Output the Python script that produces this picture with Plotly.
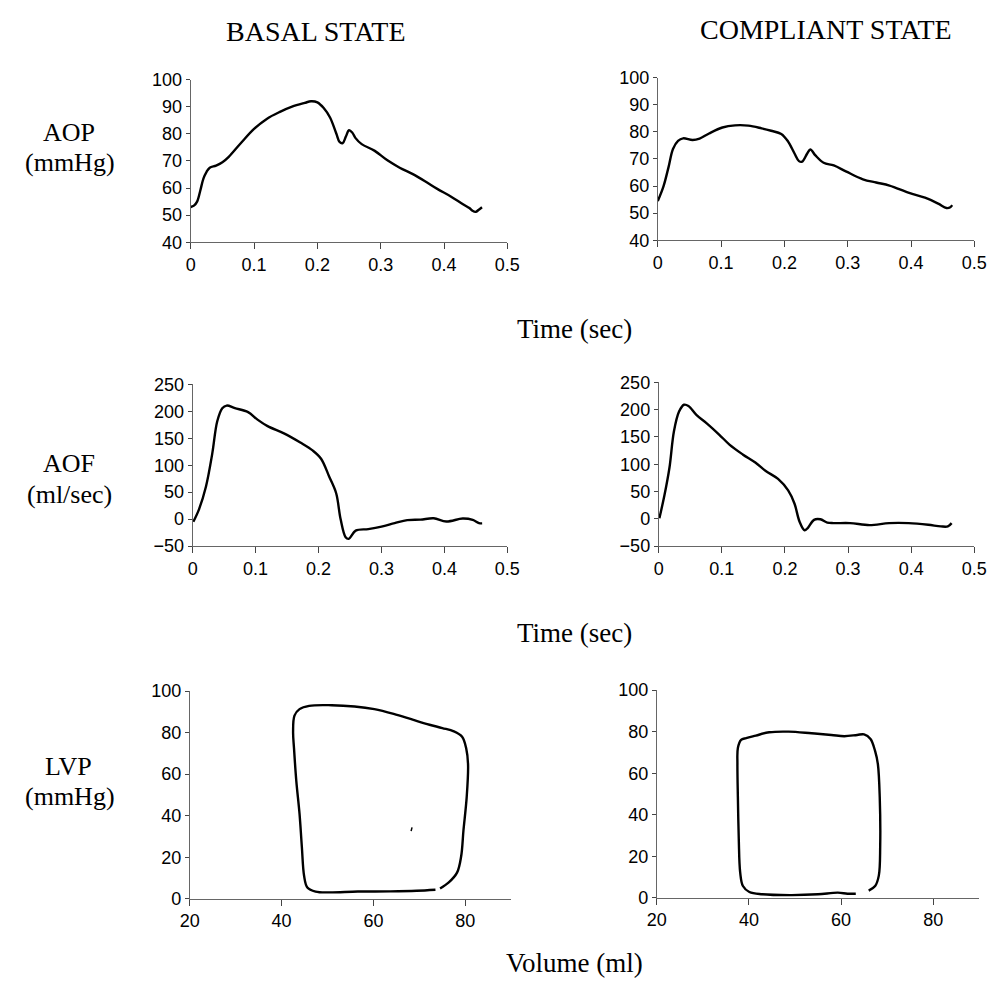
import plotly.graph_objects as go
from plotly.subplots import make_subplots

W, H = 1002, 998

# ---- Data ----
aop_basal_t = [0, 0.005, 0.01, 0.015, 0.02, 0.025, 0.03, 0.04, 0.05, 0.06, 0.08, 0.1, 0.12, 0.14, 0.16,
               0.18, 0.19, 0.2, 0.21, 0.22, 0.23, 0.235, 0.24, 0.245, 0.25, 0.255, 0.26, 0.27, 0.29, 0.31,
               0.33, 0.35, 0.37, 0.39, 0.41, 0.43, 0.44, 0.445, 0.45, 0.455, 0.46]
aop_basal_p = [53, 53.5, 55, 59, 63.5, 66, 67.5, 68.3, 69.5, 71.5, 76.8, 81.8, 85.5, 88, 90,
               91.4, 92, 91.6, 89.5, 86, 80, 77, 76.6, 79, 81.3, 80.5, 78.5, 76.2, 73.8, 70.3,
               67.5, 65.2, 62.5, 59.6, 57, 54, 52.6, 51.6, 51.2, 52, 52.9]

aop_comp_t = [0, 0.009, 0.017, 0.024, 0.032, 0.04, 0.055, 0.066, 0.081, 0.102, 0.122, 0.143, 0.164,
              0.179, 0.195, 0.205, 0.216, 0.223, 0.228, 0.236, 0.241, 0.249, 0.262, 0.278, 0.298,
              0.324, 0.345, 0.366, 0.397, 0.422, 0.443, 0.456, 0.462, 0.465]
aop_comp_p = [54.5, 59.9, 67, 73.7, 76.7, 77.6, 77, 77.5, 79.4, 81.6, 82.4, 82.3, 81.3,
              80.4, 79.2, 76.7, 72, 69.2, 69, 72, 73.5, 71.3, 68.6, 67.6, 65.3,
              62.5, 61.3, 60.2, 57.5, 55.7, 53.5, 51.9, 52.2, 53]

aof_basal_t = [0.001, 0.01, 0.021, 0.031, 0.039, 0.047, 0.054, 0.067, 0.088, 0.103, 0.119, 0.145,
               0.171, 0.191, 0.204, 0.217, 0.228, 0.235, 0.243, 0.248, 0.259, 0.279, 0.3, 0.321,
               0.341, 0.362, 0.383, 0.403, 0.429, 0.445, 0.455, 0.46]
aof_basal_f = [-5, 18, 60, 121, 181.5, 205.8, 210.6, 205.8, 198.5, 184.5, 172.4, 159,
               142, 127, 112, 78.5, 48, 0, -33.6, -36.6, -21.5, -18.5, -14, -7.5,
               -2, -1, 1.5, -4.5, 1, -1.5, -7.5, -8]

aof_comp_t = [0.001, 0.009, 0.017, 0.024, 0.032, 0.04, 0.047, 0.06, 0.076, 0.096, 0.112, 0.133,
              0.153, 0.169, 0.189, 0.205, 0.215, 0.223, 0.231, 0.236, 0.246, 0.256, 0.267, 0.277,
              0.303, 0.334, 0.365, 0.396, 0.427, 0.447, 0.458, 0.464]
aof_comp_f = [1, 43, 94, 160, 196, 209, 206.8, 190, 175, 154, 136, 118,
              103, 88, 73, 52, 28, -5, -21, -17, -2, -1, -7, -8,
              -8, -11.6, -8, -8, -11, -14, -14, -8]

lvp_basal_v = [74.5, 76.4, 78.2, 79.1, 79.6, 80.3, 80.6, 80.2, 79.3, 77.5, 75, 72.2, 68.7, 64.4, 60.2,
               55.9, 50.9, 46, 43.9, 42.8, 42.5, 42.7, 43.2, 43.9, 44.4, 44.9, 45.6, 47.4, 50.2,
               56.6, 63.7, 69.4, 73.5]
lvp_basal_p = [5, 7.9, 12.6, 20.5, 33, 48.8, 64.6, 72.4, 78, 80.6, 82.2, 83.8, 86.1, 89, 91.3,
               92.6, 93.2, 92.9, 91.3, 88.2, 80.3, 72.4, 56.7, 41, 25.2, 11, 5.5, 3.5, 3.1,
               3.5, 3.6, 3.9, 4.4]
stray_v = [68.2, 68.4]
stray_p = [32.6, 34.4]

lvp_comp_v = [66, 67.4, 68.2, 68.5, 68.4, 68, 67.4, 66.4, 65, 63.5, 60.7, 57.9, 53.6, 48.6, 44.4,
              41.5, 39.4, 38.3, 37.6, 37.5, 37.6, 37.8, 38.1, 38.7, 40.1, 42.9, 49.3, 55, 59.3,
              61.4, 63.2]
lvp_comp_p = [3.5, 5.7, 10.7, 24.9, 48.5, 64.3, 70.6, 76.5, 78.7, 78.4, 77.8, 78.4, 79.2, 80, 79.7,
              78.1, 76.9, 76, 72.1, 64.3, 48.5, 28, 12.3, 5.7, 2.8, 1.7, 1.3, 1.7, 2.5,
              2, 2]

time_ticks = [0, 0.1, 0.2, 0.3, 0.4, 0.5]
aop_ticks = [40, 50, 60, 70, 80, 90, 100]
aof_ticks = [-50, 0, 50, 100, 150, 200, 250]
vol_ticks = [20, 40, 60, 80]
lvp_ticks = [0, 20, 40, 60, 80, 100]

col_titles = ["BASAL STATE", "COMPLIANT STATE"]
row_labels = [["AOP", "(mmHg)"], ["AOF", "(ml/sec)"], ["LVP", "(mmHg)"]]
x_titles = ["Time (sec)", "Time (sec)", "Volume (ml)"]

# ---- Figure ----
fig = make_subplots(rows=3, cols=2)

line = dict(color="black", width=2.4, shape="spline")
fig.add_trace(go.Scatter(x=aop_basal_t, y=aop_basal_p, mode="lines", line=line, showlegend=False), 1, 1)
fig.add_trace(go.Scatter(x=aop_comp_t, y=aop_comp_p, mode="lines", line=line, showlegend=False), 1, 2)
fig.add_trace(go.Scatter(x=aof_basal_t, y=aof_basal_f, mode="lines", line=line, showlegend=False), 2, 1)
fig.add_trace(go.Scatter(x=aof_comp_t, y=aof_comp_f, mode="lines", line=line, showlegend=False), 2, 2)
fig.add_trace(go.Scatter(x=lvp_basal_v, y=lvp_basal_p, mode="lines", line=line, showlegend=False), 3, 1)
fig.add_trace(go.Scatter(x=stray_v, y=stray_p, mode="lines", line=dict(color="black", width=1.5), showlegend=False), 3, 1)
fig.add_trace(go.Scatter(x=lvp_comp_v, y=lvp_comp_p, mode="lines", line=line, showlegend=False), 3, 2)

def px_x(a, b):
    return [a / W, b / W]

def px_y(top, bottom):
    return [1 - bottom / H, 1 - top / H]

# pixel boxes (left, right, top, bottom)
boxes = {
    (1, 1): (185, 509, 71, 237),
    (1, 2): (663, 987, 69, 235),
    (2, 1): (187, 509, 382, 547),
    (2, 2): (664, 987, 380, 547),
    (3, 1): (184, 513, 695, 907),
    (3, 2): (662, 992, 694, 906),
}
tickfont = dict(family="Arial, Liberation Sans, sans-serif", size=18, color="black")
axis_common = dict(showgrid=False, zeroline=False, showline=True, linecolor="#666", linewidth=1,
                   ticks="outside", tickcolor="#444", tickwidth=1, tickfont=tickfont)

for (r, c), (l, rr, t, b) in boxes.items():
    fig.update_xaxes(domain=px_x(l, rr), row=r, col=c, **axis_common, ticklen=6)
    fig.update_yaxes(domain=px_y(t, b), row=r, col=c, **axis_common, ticklen=4)
    if r < 3:
        fig.update_xaxes(range=[0, 0.5], tickvals=time_ticks, ticktext=[f"{v:g}" for v in time_ticks], row=r, col=c)
    else:
        fig.update_xaxes(range=[20, 90], tickvals=vol_ticks, row=r, col=c)
    if r == 1:
        fig.update_yaxes(range=[40, 100], tickvals=aop_ticks, row=r, col=c)
    elif r == 2:
        fig.update_yaxes(range=[-50, 250], tickvals=aof_ticks, row=r, col=c)
    else:
        fig.update_yaxes(range=[0, 100], tickvals=lvp_ticks, row=r, col=c)

ann = []
def add_text(txt, x, y, size=27):
    ann.append(dict(text=txt, x=x / W, y=1 - y / H, xref="paper", yref="paper",
                    showarrow=False,
                    font=dict(family="Times New Roman, Liberation Serif, serif", size=size, color="black"),
                    xanchor="center", yanchor="middle"))

add_text(col_titles[0], 313, 22, 28)
add_text(col_titles[1], 835, 20, 28)
for (l1, l2), (y1, y2) in zip(row_labels, [(125, 156), (463, 494), (772, 803)]):
    add_text(l1, 60, y1, 26)
    add_text(l2, 61, y2, 26)
for txt, y in zip(x_titles, [326, 636, 972]):
    add_text(txt, 578, y, 27)

fig.update_layout(width=W, height=H, margin=dict(l=0, r=0, t=0, b=0),
                  paper_bgcolor="white", plot_bgcolor="white", annotations=ann, showlegend=False)

fig.write_html("out.html")
